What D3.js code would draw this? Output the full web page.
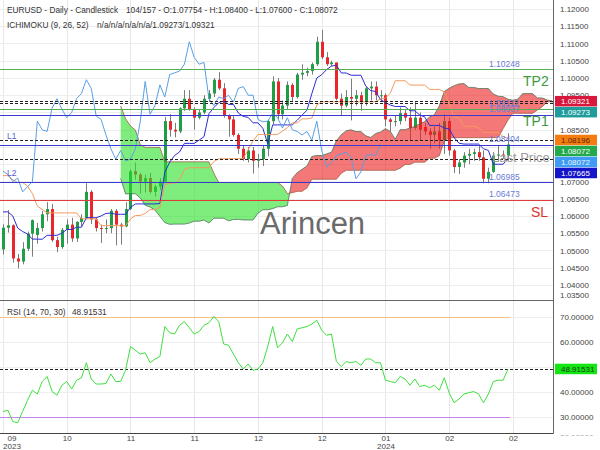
<!DOCTYPE html>
<html><head><meta charset="utf-8">
<script src="https://cdn.jsdelivr.net/npm/d3@7/dist/d3.min.js"></script>
<style>
body{margin:0;background:#fff;}
svg{display:block;font-family:"Liberation Sans",Arial,sans-serif;}
</style></head><body>
<svg id="c" width="600" height="450"></svg>
<script>
// ---------- DATA ----------
const opens = [1.0503,1.0566,1.0573,1.0477,1.0468,1.0505,1.0549,1.0545,1.0565,1.0605,1.0620,1.0530,1.0510,1.0560,1.0575,1.0535,1.0583,1.0594,1.0670,1.0590,1.0565,1.0563,1.0565,1.0615,1.0575,1.0570,1.0620,1.0730,1.0720,1.0700,1.0710,1.0670,1.0685,1.0700,1.0875,1.0850,1.0845,1.0912,1.0940,1.0910,1.0885,1.0900,1.0940,1.0955,1.0995,1.0970,1.0890,1.0880,1.0835,1.0795,1.0765,1.0790,1.0760,1.0765,1.0795,1.0875,1.0990,1.0895,1.0920,1.0980,1.0945,1.1010,1.1015,1.1020,1.1040,1.1105,1.1060,1.1040,1.1045,1.0940,1.0920,1.0945,1.0940,1.0950,1.0930,1.0970,1.0975,1.0950,1.0950,1.0880,1.0873,1.0875,1.0898,1.0885,1.0855,1.0885,1.0858,1.0845,1.0835,1.0845,1.0820,1.0875,1.0790,1.0742,1.0755,1.0775,1.0780,1.0785,1.0770,1.0708,1.0728,1.0775,1.0778,1.07754];
const highs = [1.0576,1.0617,1.0576,1.0490,1.0524,1.0555,1.0590,1.0580,1.0615,1.0640,1.0635,1.0540,1.0565,1.0590,1.0595,1.0585,1.0605,1.0695,1.0675,1.0595,1.0575,1.0590,1.0620,1.0620,1.0580,1.0640,1.0735,1.0755,1.0725,1.0720,1.0725,1.0690,1.0710,1.0887,1.0895,1.0870,1.0915,1.0965,1.0965,1.0915,1.0910,1.0950,1.0965,1.1000,1.1017,1.0985,1.0895,1.0890,1.0840,1.0805,1.0800,1.0800,1.0780,1.0805,1.0880,1.1005,1.1000,1.0935,1.0990,1.0985,1.1015,1.1040,1.1030,1.1045,1.1120,1.1139,1.1075,1.1050,1.1045,1.0955,1.0965,1.0998,1.0965,1.0960,1.0975,1.0990,1.0990,1.0965,1.0955,1.0885,1.0890,1.0915,1.0910,1.0915,1.0930,1.0900,1.0870,1.0855,1.0860,1.0870,1.0895,1.0885,1.0795,1.0765,1.0785,1.0795,1.0795,1.0805,1.0790,1.0740,1.0785,1.0805,1.0790,1.08400];
const lows = [1.0488,1.0552,1.0465,1.0448,1.0460,1.0499,1.0482,1.0520,1.0555,1.0585,1.0525,1.0495,1.0505,1.0520,1.0525,1.0525,1.0570,1.0590,1.0577,1.0555,1.0522,1.0550,1.0550,1.0515,1.0517,1.0567,1.0617,1.0705,1.0665,1.0668,1.0665,1.0656,1.0675,1.0695,1.0830,1.0828,1.0840,1.0905,1.0905,1.0850,1.0880,1.0895,1.0930,1.0945,1.0965,1.0885,1.0830,1.0830,1.0780,1.0760,1.0755,1.0723,1.0740,1.0745,1.0773,1.0865,1.0880,1.0880,1.0910,1.0930,1.0940,1.0995,1.1005,1.1010,1.1035,1.1055,1.1035,1.1035,1.0935,1.0890,1.0915,1.0877,1.0920,1.0905,1.0920,1.0935,1.0935,1.0935,1.0860,1.0845,1.0860,1.0865,1.0875,1.0820,1.0850,1.0820,1.0835,1.0795,1.0810,1.0795,1.0780,1.0775,1.0725,1.0722,1.0740,1.0750,1.0760,1.0760,1.0695,1.0695,1.0725,1.0760,1.0765,1.07600];
const closes = [1.0566,1.0573,1.0477,1.0468,1.0505,1.0549,1.0588,1.0565,1.0605,1.0620,1.0530,1.0510,1.0560,1.0575,1.0535,1.0583,1.0594,1.0670,1.0590,1.0565,1.0563,1.0565,1.0615,1.0575,1.0570,1.0620,1.0730,1.0720,1.0700,1.0710,1.0670,1.0685,1.0700,1.0875,1.0850,1.0845,1.0912,1.0940,1.0910,1.0885,1.0900,1.0940,1.0955,1.0995,1.0970,1.0890,1.0880,1.0835,1.0795,1.0765,1.0790,1.0760,1.0765,1.0795,1.0875,1.0990,1.0895,1.0920,1.0980,1.0945,1.1010,1.1015,1.1020,1.1040,1.1105,1.1060,1.1040,1.1045,1.0940,1.0920,1.0945,1.0940,1.0950,1.0930,1.0970,1.0975,1.0950,1.0950,1.0880,1.0873,1.0875,1.0898,1.0885,1.0855,1.0885,1.0850,1.0845,1.0835,1.0845,1.0820,1.0875,1.0790,1.0742,1.0755,1.0775,1.0780,1.0785,1.0770,1.0708,1.0728,1.0775,1.0778,1.0775,1.08072];
const rsiValues = [32,32.5,28,27.5,32,36.5,40.5,39,44,46,40,38.5,42.5,44,41,44.5,45.5,51.5,45,43,43,43.2,47,44,44,48.5,58,56.5,55,55.5,51.5,53,54,66,63.5,63,66.5,68,65.5,63,64,66.5,67.5,70,68,59,58.5,55,51.5,49,51,48.5,49,51.5,58,66,57.5,59.5,63,60,65,65.5,66,67,68.5,64.5,62.5,63,52,50,52,51.5,52,50.5,53,53,51.5,51.5,44.5,44,43.5,46,45,42.5,45,42,42.5,41.5,42.5,40.5,45.5,39.5,35.5,37,39,39.5,40,39,35.5,39,44,44.5,44.5,48.91531];
// Ichimoku values whose look-back lies before the first visible candle
const tenkanPre = [1.0612,1.0612,1.0600,1.0565,1.0555,1.0548,1.0533,1.0533];
const kijunPre = [1.0717,1.0717,1.0705,1.0697,1.0697,1.0687,1.0665,1.0629,1.0619,1.0609,1.0609,1.0609,1.0609,1.0609,1.0609,1.0609,1.0592,1.0592,1.0592,1.0592,1.0572,1.0572,1.0572,1.0572,1.0572];
const spanAPre = [1.0709,1.0664];
const spanBPre = [1.0919,1.0882,1.0861,1.0849,1.0807,1.0799,1.0799,1.0799,1.0799,1.0757,1.0757,1.0757,1.0757,1.0757,1.0757,1.0757,1.0757,1.0757,1.0757,1.0724,1.0697,1.0697,1.0697,1.0697,1.0697,1.0697,1.0697,1.0697,1.0697,1.0697,1.0697,1.0697,1.0697,1.0687,1.0665];
const priceTicks = [1.035,1.04,1.045,1.05,1.055,1.06,1.065,1.07,1.075,1.08,1.085,1.09,1.095,1.10,1.105,1.11,1.115,1.12];
const rsiTicks = [20,30,40,50,60,70];
const tickBars = [0,13,26,39,52,65,78,91,104];
const tickMonths = ["09","10","11","11","12","12","01","02","02"];
const tickYears = ["2023","","","","","","2024","",""];
const levelValues = [1.10248,1.09112,1.08937,1.08058,1.06985,1.06473];
const levelLabels = ["1.10248","1.09112","1.08937","1.08404","1.06985","1.06473"];
const dashedValues = [1.09321,1.09273,1.08196,1.07665];
const badgeValues = [1.09321,1.09273,1.08196,1.08072,1.08072,1.07665];
const rsiLast = 48.91531;

// ---------- STYLES ----------
const levelColors = ["#55b055","#55b055","#3a3ad0","#3a3ad0","#3a3ad0","#e03a3a"];
const badgeBg = ["#d8173c","#1f9d9d","#f57c10","#22a94a","#3f9cf5","#1414c8"];
const badgeFg = ["#fff","#fff","#5a2800","#fff","#eaf4ff","#fff"];
const FONT = "Liberation Sans, Arial, sans-serif";

const svg = d3.select("#c");
const AX = 553, PB = 300, RB = 433;
const x = d3.scaleLinear().domain([0,103]).range([3,508]);
const y = d3.scaleLinear().domain([1.035,1.12]).range([302.25,9]);
const yr = d3.scaleLinear().domain([30,70]).range([416.5,316.5]);

const defs = svg.append("defs");
defs.append("clipPath").attr("id","cp").append("rect").attr("x",0).attr("y",0).attr("width",AX).attr("height",PB);
defs.append("clipPath").attr("id","cr").append("rect").attr("x",0).attr("y",PB+1).attr("width",AX).attr("height",RB-PB-1);
defs.append("clipPath").attr("id","cra").append("rect").attr("x",AX).attr("y",PB+1).attr("width",600-AX).attr("height",RB-PB+1.5);

// grid
const grid = svg.append("g");
grid.selectAll(".gv").data(tickBars).join("line")
  .attr("x1",d=>Math.round(x(d))+0.5).attr("x2",d=>Math.round(x(d))+0.5)
  .attr("y1",0).attr("y2",RB).attr("stroke","#e8e8e8");
grid.selectAll(".gh").data(priceTicks.filter(d=>y(d)<PB)).join("line")
  .attr("x1",0).attr("x2",AX).attr("y1",d=>Math.round(y(d))+0.5).attr("y2",d=>Math.round(y(d))+0.5)
  .attr("stroke","#eeeeee");
grid.selectAll(".gr").data(rsiTicks.filter(d=>yr(d)<RB)).join("line")
  .attr("x1",0).attr("x2",AX).attr("y1",d=>Math.round(yr(d))+0.5).attr("y2",d=>Math.round(yr(d))+0.5)
  .attr("stroke","#eeeeee");

// ---------- Ichimoku ----------
function hh(a,b){let m=-Infinity;for(let k=Math.max(0,a);k<=b;k++)m=Math.max(m,highs[k]);return m;}
function ll(a,b){let m=Infinity;for(let k=Math.max(0,a);k<=b;k++)m=Math.min(m,lows[k]);return m;}
const tenkan = closes.map((_,i)=> i<tenkanPre.length ? tenkanPre[i] : (hh(i-8,i)+ll(i-8,i))/2);
const kijun = closes.map((_,i)=> i<kijunPre.length ? kijunPre[i] : (hh(i-25,i)+ll(i-25,i))/2);
const cloud = [];
for(let s=-2;s<=103;s++){
  const a = s<0 ? spanAPre[s+2] : (tenkan[s]+kijun[s])/2;
  const b = (s+2)<spanBPre.length ? spanBPre[s+2] : (hh(s-51,s)+ll(s-51,s))/2;
  cloud.push({i:s+26,a,b});
}
const segs=[]; let cur=[cloud[0]];
for(let k=1;k<cloud.length;k++){
  const p=cloud[k-1], q=cloud[k];
  const dp=p.a-p.b, dq=q.a-q.b;
  if(dp*dq<0){
    const t=dp/(dp-dq);
    const m={i:p.i+t*(q.i-p.i), a:p.a+t*(q.a-p.a)}; m.b=m.a;
    cur.push(m); segs.push(cur); cur=[m,q];
  } else cur.push(q);
}
segs.push(cur);

// candles
const pc = svg.append("g").attr("clip-path","url(#cp)");
const idx = d3.range(closes.length);
pc.selectAll(".wk").data(idx).join("line")
  .attr("x1",i=>Math.round(x(i))+0.5).attr("x2",i=>Math.round(x(i))+0.5)
  .attr("y1",i=>y(highs[i])).attr("y2",i=>y(lows[i]))
  .attr("stroke","#7c7c7c").attr("stroke-width",1);
pc.selectAll(".bd").data(idx).join("rect")
  .attr("x",i=>Math.round(x(i))-1).attr("width",3)
  .attr("y",i=>y(Math.max(opens[i],closes[i])))
  .attr("height",i=>Math.max(1,Math.abs(y(opens[i])-y(closes[i]))))
  .attr("fill",i=>closes[i]>=opens[i]?"#1f9e45":"#e8262b");

// cloud
const area = d3.area().x(d=>x(d.i)).y0(d=>y(d.a)).y1(d=>y(d.b));
segs.forEach(sg=>{
  const sgn = d3.sum(sg,d=>d.a-d.b);
  pc.append("path").datum(sg).attr("d",area)
    .attr("fill", sgn>0 ? "rgba(236,30,30,0.6)" : "rgba(40,225,40,0.6)");
});
const lineA = d3.line().x(d=>x(d.i)).y(d=>y(d.a));
const lineB = d3.line().x(d=>x(d.i)).y(d=>y(d.b));
pc.append("path").datum(cloud).attr("d",lineA).attr("fill","none").attr("stroke","rgba(70,110,80,0.75)").attr("stroke-width",1);
pc.append("path").datum(cloud).attr("d",lineB).attr("fill","none").attr("stroke","rgba(160,85,60,0.75)").attr("stroke-width",1);

// watermark
svg.append("text").attr("x",260).attr("y",234).attr("font-size",31).attr("fill","#6b6b6b")
  .attr("font-family",FONT).text("Arincen");

// lines
const lineT = d3.line().x((d,i)=>x(i)).y(d=>y(d));
pc.append("path").datum(tenkan).attr("d",lineT).attr("fill","none").attr("stroke","#2b2bd6").attr("stroke-width",1);
pc.append("path").datum(kijun).attr("d",lineT).attr("fill","none").attr("stroke","#f39a5c").attr("stroke-width",1);
const chikou = closes.slice(26);
pc.append("path").datum(chikou).attr("d",lineT).attr("fill","none").attr("stroke","#5aa0e4").attr("stroke-width",1);

// level lines
const lv = svg.append("g");
lv.selectAll(".lvl").data(levelValues).join("line")
  .attr("x1",0).attr("x2",AX).attr("y1",d=>Math.round(y(d))+0.5).attr("y2",d=>Math.round(y(d))+0.5)
  .attr("stroke",(d,i)=>levelColors[i]).attr("stroke-width",1.2);
lv.selectAll(".dsh").data(dashedValues).join("line")
  .attr("x1",0).attr("x2",AX).attr("y1",d=>Math.round(y(d))+0.5).attr("y2",d=>Math.round(y(d))+0.5)
  .attr("stroke","#222").attr("stroke-dasharray","3,2").attr("stroke-width",1);
lv.selectAll(".lt").data(levelValues).join("text")
  .attr("x",489).attr("y",d=>y(d)-2.5).attr("font-size",8.5).attr("font-family",FONT)
  .attr("fill","#6a7bd8").text((d,i)=>levelLabels[i]);
const tag=(t,xx,yy,c,fs)=>svg.append("text").attr("x",xx).attr("y",yy).attr("font-size",fs).attr("font-family",FONT).attr("fill",c).text(t);
tag("TP2",523,y(levelValues[0])+17,"#3c9a3c",14);
tag("TP1",523,y(levelValues[1])+17,"#3c9a3c",14);
tag("SL",531,y(levelValues[5])+17,"#e0302a",14);
tag("L1",7,y(levelValues[3])-6,"#5a5acc",8.5);
tag("L2",7,y(levelValues[4])-6,"#5a5acc",8.5);
tag("Last Price",492,161.5,"#9a9a9a",13);

// ---------- RSI ----------
const rc = svg.append("g").attr("clip-path","url(#cr)");
rc.append("line").attr("x1",0).attr("x2",x(103)+2).attr("y1",Math.round(yr(70))+0.5).attr("y2",Math.round(yr(70))+0.5).attr("stroke","#f7c27e");
rc.append("line").attr("x1",0).attr("x2",x(103)+2).attr("y1",Math.round(yr(30))+0.5).attr("y2",Math.round(yr(30))+0.5).attr("stroke","#c585e6");
rc.append("line").attr("x1",0).attr("x2",AX).attr("y1",Math.round(yr(rsiLast))+0.5).attr("y2",Math.round(yr(rsiLast))+0.5).attr("stroke","#222").attr("stroke-dasharray","3,2");
rc.append("path").datum(rsiValues).attr("d",d3.line().x((d,i)=>x(i)).y(d=>yr(d)))
  .attr("fill","none").attr("stroke","#3fe03f").attr("stroke-width",1);

// frame
svg.append("line").attr("x1",0).attr("x2",AX).attr("y1",PB+0.5).attr("y2",PB+0.5).attr("stroke","#666");
svg.append("line").attr("x1",0).attr("x2",AX+0.5).attr("y1",RB+0.5).attr("y2",RB+0.5).attr("stroke","#444");
svg.append("line").attr("x1",AX+0.5).attr("x2",AX+0.5).attr("y1",0).attr("y2",RB+0.5).attr("stroke","#666");

// badge positions (stacked)
const bY=[];
badgeValues.forEach((v,i)=>{ let yy=y(v); if(i>0) yy=Math.max(yy,bY[i-1]+11); bY.push(yy); });

// axes
const ay = svg.append("g").attr("transform",`translate(${AX},0)`)
  .call(d3.axisRight(y).tickValues(priceTicks).tickSize(0).tickPadding(7).tickFormat(d3.format(".5f")));
ay.select(".domain").remove();
ay.attr("font-size",8).attr("font-family",FONT);
ay.selectAll("text").attr("fill","#444");
ay.selectAll(".tick").filter(d=>y(d)>296).attr("transform","translate(0,295)");
ay.selectAll(".tick").filter(d=>bY.some(b=>Math.abs(b-y(d))<5)).remove();

const ar = svg.append("g").attr("clip-path","url(#cra)").append("g").attr("transform",`translate(${AX},0)`)
  .call(d3.axisRight(yr).tickValues(rsiTicks).tickSize(0).tickPadding(7).tickFormat(d3.format(".5f")));
ar.select(".domain").remove();
ar.attr("font-size",8).attr("font-family",FONT);
ar.selectAll("text").attr("fill","#444");
ar.selectAll(".tick").filter(d=>yr(d)>RB).attr("transform","translate(0,437)");
ar.selectAll(".tick").filter(d=>Math.abs(yr(d)-yr(rsiLast))<5).remove();

const axb = svg.append("g").attr("transform",`translate(0,${RB})`)
  .call(d3.axisBottom(x).tickValues(tickBars).tickSize(0).tickPadding(2).tickFormat(""));
axb.select(".domain").remove();
axb.attr("font-size",8).attr("font-family",FONT);
axb.selectAll(".tick text").each(function(d,i){
  const t=d3.select(this).attr("fill","#444");
  const off = Math.max(0, 11.5 - x(d));
  t.text(null);
  t.append("tspan").attr("x",off).attr("dy","0.71em").text(tickMonths[i]);
  if(tickYears[i]) t.append("tspan").attr("x",off).attr("dy","0.98em").text(tickYears[i]);
});

// badges
const bg = svg.append("g");
badgeValues.forEach((v,i)=>{
  bg.append("rect").attr("x",AX+2).attr("y",bY[i]-5.5).attr("width",42).attr("height",10.5).attr("fill",badgeBg[i]);
  bg.append("text").attr("x",AX+8).attr("y",bY[i]+3).attr("font-size",8).attr("font-family",FONT)
    .attr("fill",badgeFg[i]).text(d3.format(".5f")(v));
});
bg.append("rect").attr("x",AX+2).attr("y",yr(rsiLast)-5.5).attr("width",42).attr("height",10.5).attr("fill","#14e614");
bg.append("text").attr("x",AX+8).attr("y",yr(rsiLast)+3).attr("font-size",8).attr("font-family",FONT)
  .attr("fill","#1a3a1a").text(d3.format(".5f")(rsiLast));

// headers
tag("EURUSD - Daily - Candlestick",7,13,"#333",8.3);
tag("104/157 - O:"+d3.format(".5f")(opens[103])+" - H:"+d3.format(".5f")(highs[103])+" - L:"+d3.format(".5f")(lows[103])+" - C:"+d3.format(".5f")(closes[103]),126,13,"#333",8.3);
tag("ICHIMOKU (9, 26, 52)",7,28,"#333",8.3);
tag("n/a/n/a/n/a/n/a/1.09273/1.09321",97,28,"#333",8.3);
tag("RSI (14, 70, 30)",7,314.5,"#333",8.3);
tag(d3.format(".5f")(rsiLast),72,314.5,"#333",8.3);
</script>
</body></html>
